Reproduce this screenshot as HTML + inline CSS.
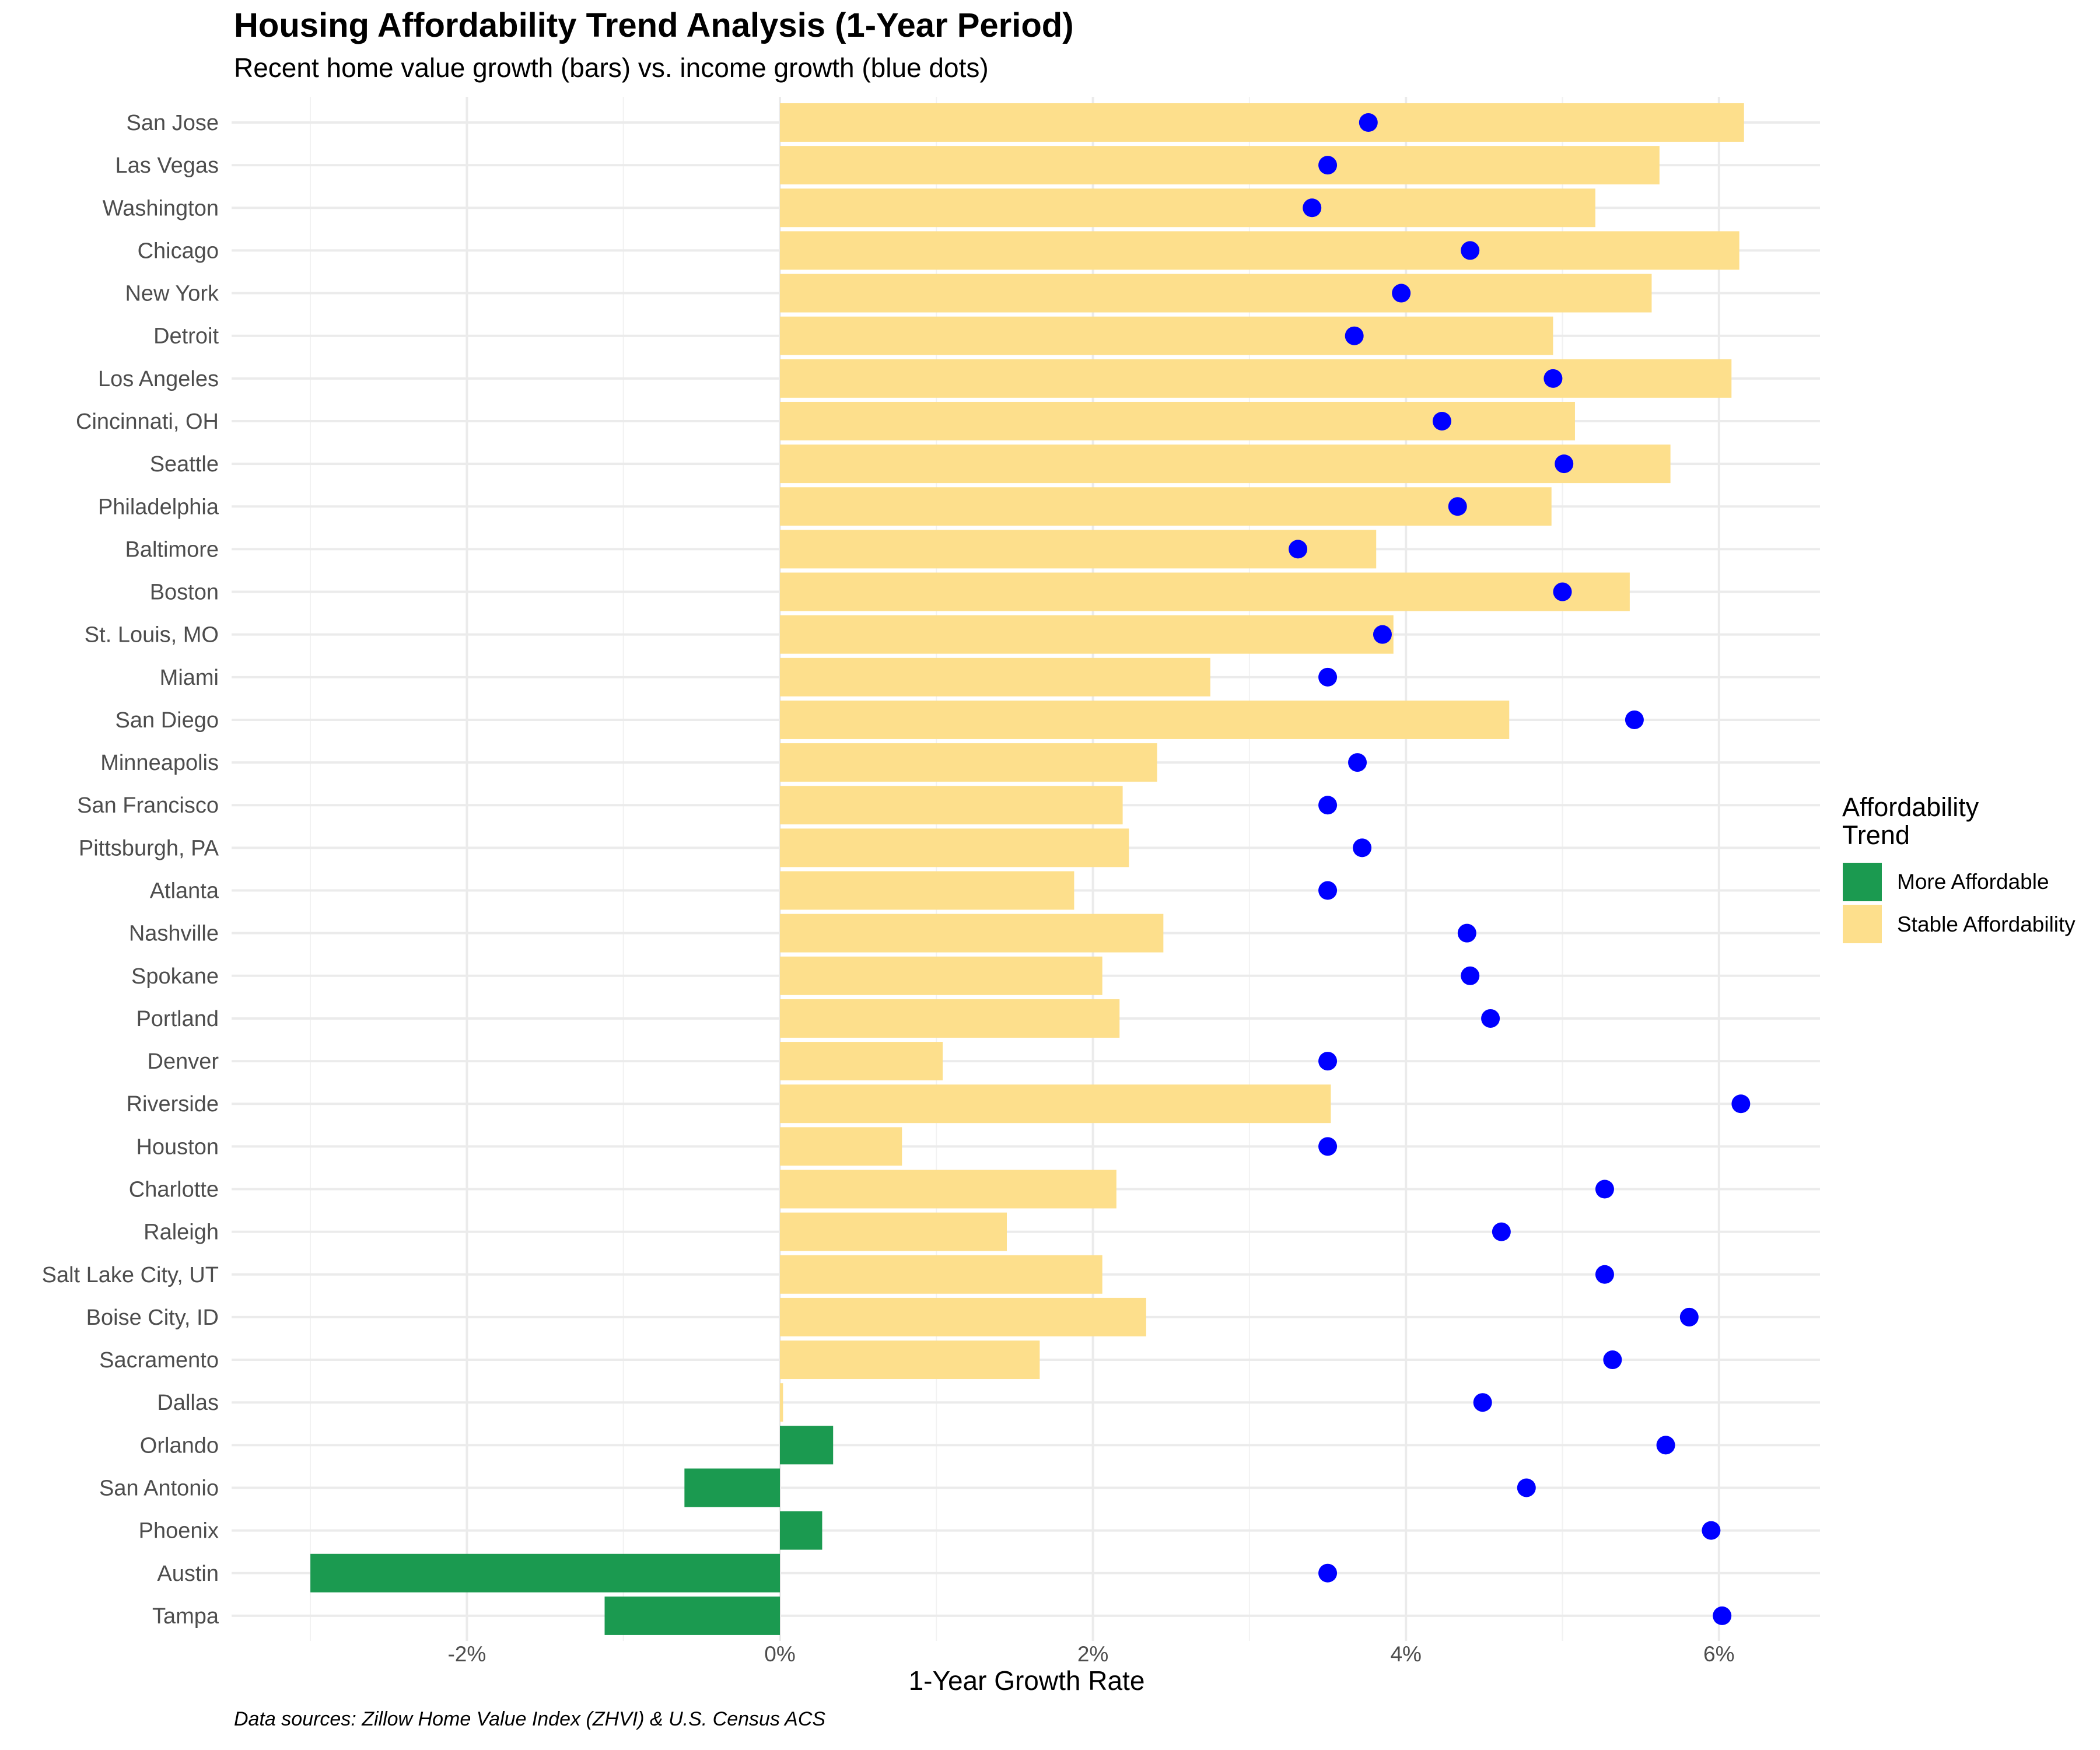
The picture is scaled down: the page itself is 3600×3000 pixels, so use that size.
<!DOCTYPE html>
<html><head><meta charset="utf-8"><style>
html,body{margin:0;padding:0;background:#fff;}
svg{display:block;font-family:"Liberation Sans",sans-serif;}
</style></head><body>
<svg id="chart" width="3600" height="3000" viewBox="0 0 3600 3000" xmlns="http://www.w3.org/2000/svg">
<text x="401" y="63" font-size="58" font-weight="bold" fill="#000">Housing Affordability Trend Analysis (1-Year Period)</text>
<text x="401" y="132" font-size="46" fill="#000">Recent home value growth (bars) vs. income growth (blue dots)</text>
<g id="grid"></g>
<g id="bars"></g>
<g id="dots"></g>
<g id="ylabels"></g>
<g id="xlabels"></g>
<text x="1760" y="2897" font-size="46" text-anchor="middle" fill="#000">1-Year Growth Rate</text>
<text x="401" y="2958" font-size="34" font-style="italic" fill="#000">Data sources: Zillow Home Value Index (ZHVI) &amp; U.S. Census ACS</text>
<g>
<text x="3158" y="1399" font-size="45" fill="#000">Affordability</text>
<text x="3158" y="1447" font-size="45" fill="#000">Trend</text>
<rect x="3159" y="1479" width="67" height="66" fill="#1b9a50"/>
<text x="3252" y="1524" font-size="37" fill="#000">More Affordable</text>
<rect x="3159" y="1551" width="67" height="66" fill="#fddf8c"/>
<text x="3252" y="1597" font-size="37" fill="#000">Stable Affordability</text>
</g>
</svg>
<script>
const cities = ["San Jose","Las Vegas","Washington","Chicago","New York","Detroit","Los Angeles","Cincinnati, OH","Seattle","Philadelphia","Baltimore","Boston","St. Louis, MO","Miami","San Diego","Minneapolis","San Francisco","Pittsburgh, PA","Atlanta","Nashville","Spokane","Portland","Denver","Riverside","Houston","Charlotte","Raleigh","Salt Lake City, UT","Boise City, ID","Sacramento","Dallas","Orlando","San Antonio","Phoenix","Austin","Tampa"];
const homeGrowth = [6.16,5.62,5.21,6.13,5.57,4.94,6.08,5.08,5.69,4.93,3.81,5.43,3.92,2.75,4.66,2.41,2.19,2.23,1.88,2.45,2.06,2.17,1.04,3.52,0.78,2.15,1.45,2.06,2.34,1.66,0.02,0.34,-0.61,0.27,-3.00,-1.12];
const incomeGrowth = [3.76,3.50,3.40,4.41,3.97,3.67,4.94,4.23,5.01,4.33,3.31,5.00,3.85,3.50,5.46,3.69,3.50,3.72,3.50,4.39,4.41,4.54,3.50,6.14,3.50,5.27,4.61,5.27,5.81,5.32,4.49,5.66,4.77,5.95,3.50,6.02];
const trend = ["S","S","S","S","S","S","S","S","S","S","S","S","S","S","S","S","S","S","S","S","S","S","S","S","S","S","S","S","S","S","S","M","M","M","M","M"];
const majorTicks = [-2,0,2,4,6];
const tickLabels = ["-2%","0%","2%","4%","6%"];
const minorTicks = [-3,-1,1,3,5];

const NS="http://www.w3.org/2000/svg";
const PL=397, PR=3120, PT=166, PB=2813;
function x(v){return 1337 + v*268.3;}
function y(i){return 210 + i*73.14;}
function mk(tag,attrs,parent){const e=document.createElementNS(NS,tag);for(const k in attrs)e.setAttribute(k,attrs[k]);parent.appendChild(e);return e;}
const grid=document.getElementById('grid'), bars=document.getElementById('bars'), dots=document.getElementById('dots'), yl=document.getElementById('ylabels'), xl=document.getElementById('xlabels');
minorTicks.forEach(t=>{
  const l=mk('line',{x1:x(t),x2:x(t),y1:PT,y2:PB,stroke:'#f2f2f2','stroke-width':2},grid);
  
  
});
majorTicks.forEach((t,k)=>{
  const l=mk('line',{x1:x(t),x2:x(t),y1:PT,y2:PB,stroke:'#ebebeb','stroke-width':4},grid);
  
  
  const tx=mk('text',{x:x(t),y:2848,'font-size':37,fill:'#4d4d4d','text-anchor':'middle'},xl);
  tx.textContent=tickLabels[k];
  
  
});
cities.forEach((c,i)=>{
  const l=mk('line',{x1:PL,x2:PR,y1:y(i),y2:y(i),stroke:'#ebebeb','stroke-width':4},grid);
  
  
  const v=homeGrowth[i];
  const x0=Math.min(x(0),x(v)), w=Math.abs(x(v)-x(0));
  const b=mk('rect',{x:x0,y:y(i)-33,width:Math.max(w,1),height:66,fill:trend[i]==='M'?'#1b9a50':'#fddf8c'},bars);
  
  
  const d=mk('circle',{cx:x(incomeGrowth[i]),cy:y(i),r:16,fill:'#0000ff'},dots);
  
  
  const t=mk('text',{x:375,y:y(i)+13,'font-size':38,fill:'#4d4d4d','text-anchor':'end'},yl);
  t.textContent=c;
  
  
});
</script>
</body></html>
